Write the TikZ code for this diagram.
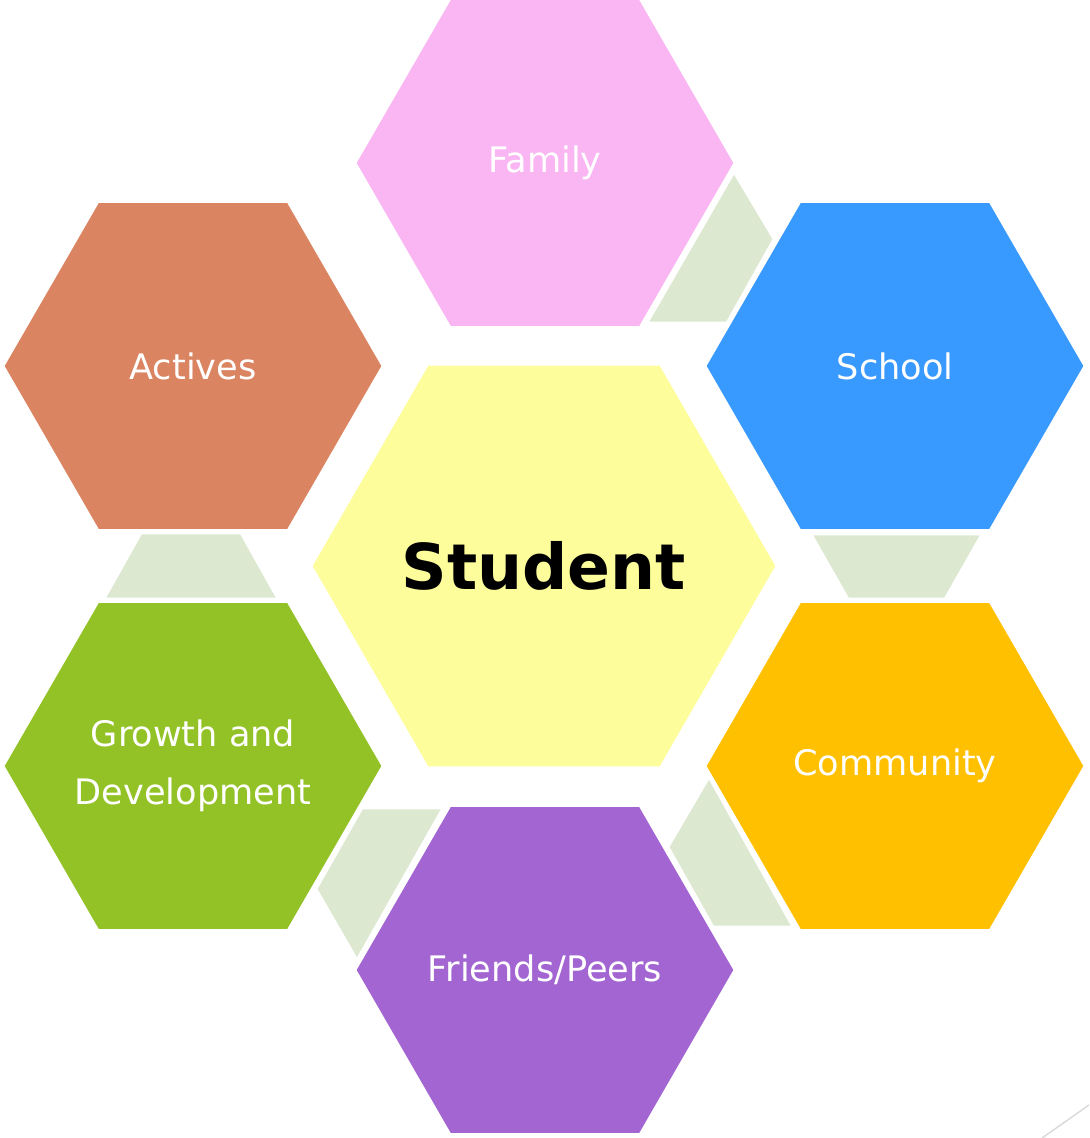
\documentclass[tikz,border=0pt]{standalone}
\usepackage{fontspec}
\setmainfont{DejaVu Sans}
\usetikzlibrary{shapes.geometric}
\definecolor{familypink}{HTML}{F9B6F3}
\definecolor{activesorange}{HTML}{DB8461}
\definecolor{schoolblue}{HTML}{3899FE}
\definecolor{studentyellow}{HTML}{FDFD9B}
\definecolor{growthgreen}{HTML}{93C227}
\definecolor{communitygold}{HTML}{FFC000}
\definecolor{friendspurple}{HTML}{A265D1}
\definecolor{linkgreen}{HTML}{DCE8CF}
\definecolor{edgegray}{HTML}{D9D9D9}
\begin{document}
\begin{tikzpicture}[x=0.02cm,y=-0.02cm,
        hexcell/.style={regular polygon,regular polygon sides=6,draw=white,
            line width=1.5pt,minimum size=7.6cm,inner sep=-2cm,text=white,
            font=\fontsize{20}{33}\selectfont,align=center},
        linkcell/.style={fill=linkgreen,draw=white,line width=1.5pt}]
    \useasboundingbox (0,0) rectangle (1089,1138);

    % links between the outer cells
    \filldraw[linkcell] (734,172) -- (774,239) -- (727,323) -- (647,323) -- cycle;
    \filldraw[linkcell] (141,533) -- (241,533) -- (278,599) -- (104,599) -- cycle;
    \filldraw[linkcell] (811,534) -- (982,534) -- (945,599) -- (848,599) -- cycle;
    \filldraw[linkcell] (709,777) -- (793,927) -- (713,927) -- (668,847) -- cycle;
    \filldraw[linkcell] (362,808) -- (443,808) -- (357,960) -- (316,889) -- cycle;

    % cells
    \node[hexcell,fill=familypink] (family) at (545,163) {Family};
    \node[hexcell,fill=activesorange] (actives) at (193,366) {Actives};
    \node[hexcell,fill=schoolblue] (school) at (895,366) {School};
    \node[hexcell,fill=growthgreen] (growth) at (193,766) {Growth and\\Development};
    \node[hexcell,fill=communitygold] (community) at (895,766) {Community};
    \node[hexcell,fill=friendspurple] (friends) at (545,970) {Friends/Peers};
    \node[hexcell,fill=studentyellow,minimum size=9.32cm,text=black,
        font=\fontsize{36}{40}\selectfont\bfseries] (student) at (544,566) {Student};

    \draw[edgegray,line width=0.8pt] (1042,1138) -- (1089,1105);
\end{tikzpicture}
\end{document}
